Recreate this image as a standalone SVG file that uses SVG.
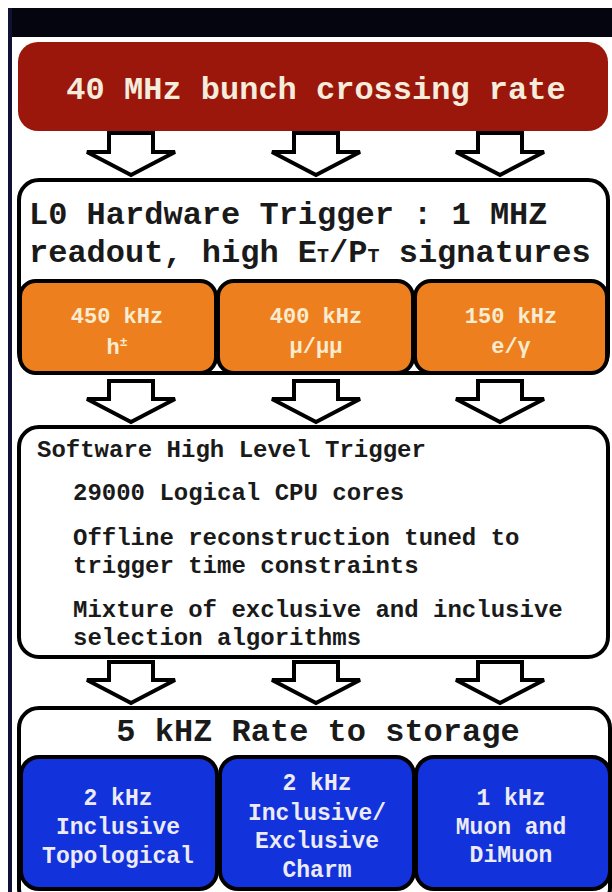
<svg xmlns="http://www.w3.org/2000/svg" width="612" height="892" viewBox="0 0 612 892">
<style>
  text { font-family: "Liberation Mono", "Courier New", "DejaVu Sans Mono", monospace; font-weight: bold; }
  .box { fill: #ffffff; stroke: #000000; stroke-width: 4; }
  .org { fill: #ee7f1f; stroke: #000000; stroke-width: 4; }
  .blu { fill: #1232dc; stroke: #000000; stroke-width: 4; }
  .arrow { fill: #ffffff; stroke: #000000; stroke-width: 4; stroke-linejoin: miter; }
  .hdr { font-size: 32px; fill: #1a1a1a; }
  .body { font-size: 24px; fill: #1a1a1a; }
  .olab { font-size: 22px; fill: #f8ecd0; text-anchor: middle; }
  .blab { font-size: 23px; fill: #ecebf5; text-anchor: middle; }
</style>
<rect x="0" y="0" width="612" height="892" fill="#ffffff"/>
<rect x="8" y="8" width="604" height="29" fill="#05050f"/>
<rect x="8" y="8" width="4" height="884" fill="#111133"/>

<g id="bunch-crossing">
  <rect x="18" y="42" width="590" height="89" rx="20" fill="#9b170b"/>
  <text x="316" y="99" text-anchor="middle" font-size="32" fill="#f5ecdc">40 MHz bunch crossing rate</text>
</g>

<g id="connectors">
  <path class="arrow" d="M109,133 H153 V152 H175 L131,175 L87,152 H109 Z"/>
  <path class="arrow" d="M294,133 H338 V152 H360 L316,175 L272,152 H294 Z"/>
  <path class="arrow" d="M478,133 H522 V152 H544 L500,175 L456,152 H478 Z"/>
  <path class="arrow" d="M109,381 H153 V399 H175 L131,422 L87,399 H109 Z"/>
  <path class="arrow" d="M294,381 H338 V399 H360 L316,422 L272,399 H294 Z"/>
  <path class="arrow" d="M478,381 H522 V399 H544 L500,422 L456,399 H478 Z"/>
  <path class="arrow" d="M109,662 H153 V680 H175 L131,703 L87,680 H109 Z"/>
  <path class="arrow" d="M294,662 H338 V680 H360 L316,703 L272,680 H294 Z"/>
  <path class="arrow" d="M478,662 H522 V680 H544 L500,703 L456,680 H478 Z"/>
</g>

<g id="l0-trigger">
  <rect class="box" x="19" y="180" width="589" height="193" rx="20"/>
  <text class="hdr" x="29" y="224">L0 Hardware Trigger : 1 MHZ</text>
  <text class="hdr" x="29" y="262">readout, high E<tspan font-size="20">T</tspan>/P<tspan font-size="20">T</tspan> signatures</text>
</g>

<g id="l0-hadron">
  <rect class="org" x="20" y="281" width="196" height="92" rx="16"/>
  <text class="olab" x="117" y="323">450 kHz</text>
  <text class="olab" x="117" y="354">h<tspan font-size="13" dy="-8">±</tspan></text>
</g>
<g id="l0-muon">
  <rect class="org" x="218" y="281" width="195" height="92" rx="16"/>
  <text class="olab" x="316" y="323">400 kHz</text>
  <text class="olab" x="316" y="353">μ/μμ</text>
</g>
<g id="l0-electron">
  <rect class="org" x="415" y="281" width="192" height="92" rx="16"/>
  <text class="olab" x="511" y="323">150 kHz</text>
  <text class="olab" x="511" y="353">e/γ</text>
</g>

<g id="hlt">
  <rect class="box" x="19" y="427" width="589" height="230" rx="20"/>
  <text class="body" x="37" y="457">Software High Level Trigger</text>
  <text class="body" x="73" y="500">29000 Logical CPU cores</text>
  <text class="body" x="73" y="545">Offline reconstruction tuned to</text>
  <text class="body" x="73" y="573">trigger time constraints</text>
  <text class="body" x="73" y="617">Mixture of exclusive and inclusive</text>
  <text class="body" x="73" y="645">selection algorithms</text>
</g>

<g id="storage">
  <rect class="box" x="19" y="708" width="591" height="200" rx="20"/>
  <text class="hdr" x="318" y="741" text-anchor="middle">5 kHZ Rate to storage</text>
</g>

<g id="out-topological">
  <rect class="blu" x="21" y="757" width="196" height="132" rx="18"/>
  <text class="blab" x="118" y="805">2 kHz</text>
  <text class="blab" x="118" y="834">Inclusive</text>
  <text class="blab" x="118" y="863">Topological</text>
</g>
<g id="out-charm">
  <rect class="blu" x="220" y="757" width="194" height="132" rx="18"/>
  <text class="blab" x="317" y="790">2 kHz</text>
  <text class="blab" x="317" y="820">Inclusive/</text>
  <text class="blab" x="317" y="848">Exclusive</text>
  <text class="blab" x="317" y="877">Charm</text>
</g>
<g id="out-muon">
  <rect class="blu" x="416" y="757" width="194" height="132" rx="18"/>
  <text class="blab" x="511" y="805">1 kHz</text>
  <text class="blab" x="511" y="834">Muon and</text>
  <text class="blab" x="511" y="862">DiMuon</text>
</g>
</svg>
